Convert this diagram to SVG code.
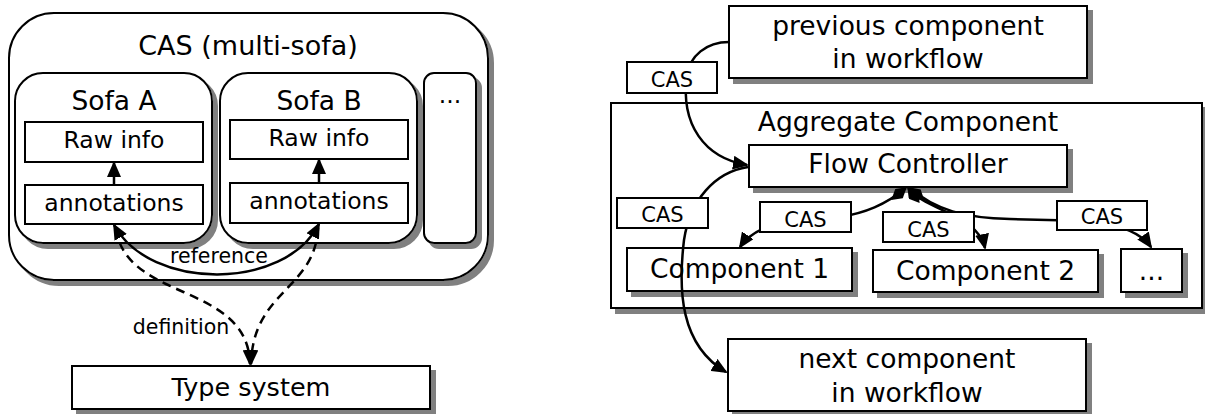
<svg xmlns="http://www.w3.org/2000/svg" width="1205" height="414" viewBox="0 0 1205 414">
  <style>
    .box { fill: #fff; stroke: #000; stroke-width: 2; }
    .sh { filter: url(#shadow); }
    .t { font-family: "DejaVu Sans", "Liberation Sans", sans-serif; fill: #000; text-anchor: middle; }
    .big { font-size: 26.5px; }
    .mid { font-size: 23.5px; }
    .small { font-size: 20.5px; }
    .lbl { font-size: 21px; }
    .edge { fill: none; stroke: #000; stroke-width: 2.5; }
    .dash { stroke-dasharray: 9 6; }
    .arr { marker-end: url(#arrow); }
  </style>
  <defs>
    <filter id="shadow" x="-5%" y="-5%" width="115%" height="125%">
      <feOffset in="SourceAlpha" dx="5" dy="5" result="off"/>
      <feFlood flood-color="#808080"/>
      <feComposite in2="off" operator="in" result="sh"/>
      <feMerge>
        <feMergeNode in="sh"/>
        <feMergeNode in="SourceGraphic"/>
      </feMerge>
    </filter>
    <marker id="arrow" viewBox="0 0 16 14" refX="14" refY="7" markerWidth="16" markerHeight="14" markerUnits="userSpaceOnUse" orient="auto-start-reverse">
      <path d="M0,0 L16,7 L0,14 z" fill="#000" stroke="none"/>
    </marker>
    <marker id="diamond" viewBox="0 0 20 12" refX="1" refY="6" markerWidth="20" markerHeight="12" markerUnits="userSpaceOnUse" orient="auto">
      <path d="M0,6 L10,0 L20,6 L10,12 z" fill="#000" stroke="none"/>
    </marker>
  </defs>

  <!-- Left: multi-sofa CAS -->
  <g id="cas-multi-sofa">
    <rect class="box sh" x="9" y="13" width="479" height="267" rx="45"/>
    <text class="t" x="248" y="55" font-size="27">CAS (multi-sofa)</text>
  </g>
  <g id="sofa-a">
    <rect class="box sh" x="15" y="73" width="197" height="170" rx="28"/>
    <text class="t big" x="114" y="110">Sofa A</text>
  </g>
  <g id="raw-info-a">
    <rect class="box" x="25" y="122" width="178" height="40"/>
    <text class="t mid" x="114" y="148">Raw info</text>
  </g>
  <g id="annotations-a">
    <rect class="box" x="25" y="185" width="178" height="39"/>
    <text class="t mid" x="114" y="211">annotations</text>
  </g>
  <g id="sofa-b">
    <rect class="box sh" x="220" y="73" width="197" height="170" rx="28"/>
    <text class="t big" x="319" y="110">Sofa B</text>
  </g>
  <g id="raw-info-b">
    <rect class="box" x="230" y="120" width="178" height="39"/>
    <text class="t mid" x="319" y="146">Raw info</text>
  </g>
  <g id="annotations-b">
    <rect class="box" x="230" y="183" width="178" height="40"/>
    <text class="t mid" x="319" y="209">annotations</text>
  </g>
  <g id="sofa-more">
    <rect class="box sh" x="424" y="73" width="52" height="170" rx="10"/>
    <text class="t mid" x="450" y="103">...</text>
  </g>
  <g id="type-system">
    <rect class="box sh" x="72" y="366" width="358" height="43"/>
    <text class="t" x="251" y="396" font-size="25.5">Type system</text>
  </g>

  <!-- Right: aggregate component in a workflow -->
  <g id="previous-component">
    <rect class="box sh" x="729" y="6" width="358" height="72"/>
    <text class="t big" x="908" y="35">previous component</text>
    <text class="t big" x="908" y="68">in workflow</text>
  </g>
  <g id="aggregate-component">
    <rect class="box sh" x="611" y="103" width="591" height="205"/>
    <text class="t big" x="908" y="131">Aggregate Component</text>
  </g>
  <g id="flow-controller">
    <rect class="box sh" x="749" y="145" width="318" height="42"/>
    <text class="t big" x="908" y="173">Flow Controller</text>
  </g>
  <g id="component-1">
    <rect class="box sh" x="627" y="248" width="225" height="43"/>
    <text class="t big" x="739.5" y="278">Component 1</text>
  </g>
  <g id="component-2">
    <rect class="box sh" x="873" y="250" width="225" height="42"/>
    <text class="t big" x="985.5" y="280">Component 2</text>
  </g>
  <g id="component-more">
    <rect class="box sh" x="1121" y="249" width="61" height="43"/>
    <text class="t big" x="1151.5" y="280">...</text>
  </g>
  <g id="next-component">
    <rect class="box sh" x="728" y="339" width="358" height="72"/>
    <text class="t big" x="907" y="368">next component</text>
    <text class="t big" x="907" y="402">in workflow</text>
  </g>

  <!-- Connectors -->
  <g id="connectors">
    <path class="edge arr" d="M114 185 L114 163"/>
    <path class="edge arr" d="M319 183 L319 160"/>
    <path class="edge arr" style="marker-start:url(#arrow)" d="M114 225 C150 291 285 291 319 224"/>
    <path class="edge dash arr" d="M116 228 C125 302 248 282 250 364"/>
    <path class="edge dash arr" d="M318 228 C315 290 253 290 251 364"/>
    <text class="t small" x="219" y="263">reference</text>
    <text class="t small" x="181" y="334">definition</text>

    <path class="edge arr" d="M729 42 C706 42 690 56 687 75 C680 125 705 158 747 165"/>
    <path class="edge arr" d="M748 167 C715 172 690 200 684 240 C678 290 680 345 726 372"/>
    <path class="edge arr" style="marker-start:url(#diamond)" d="M906 188 C885 205 865 213 840 217 L780 222 C758 229 746 238 740 247"/>
    <path class="edge arr" style="marker-start:url(#diamond)" d="M908 188 C925 210 978 215 985 248"/>
    <path class="edge arr" style="marker-start:url(#diamond)" d="M910 188 C935 210 965 218 1010 219 L1090 221 C1122 225 1142 234 1151 247"/>
  </g>

  <!-- CAS labels on the connectors -->
  <g id="edge-labels">
    <rect class="box" x="627" y="62" width="90" height="31"/>
    <text class="t lbl" x="672" y="87">CAS</text>
    <rect class="box" x="617" y="198" width="91" height="30"/>
    <text class="t lbl" x="662.5" y="222">CAS</text>
    <rect class="box" x="760" y="202" width="91" height="30"/>
    <text class="t lbl" x="805.5" y="227">CAS</text>
    <rect class="box" x="883" y="212" width="91" height="30"/>
    <text class="t lbl" x="928.5" y="237">CAS</text>
    <rect class="box" x="1057" y="201" width="90" height="29"/>
    <text class="t lbl" x="1102" y="224">CAS</text>
  </g>
</svg>
